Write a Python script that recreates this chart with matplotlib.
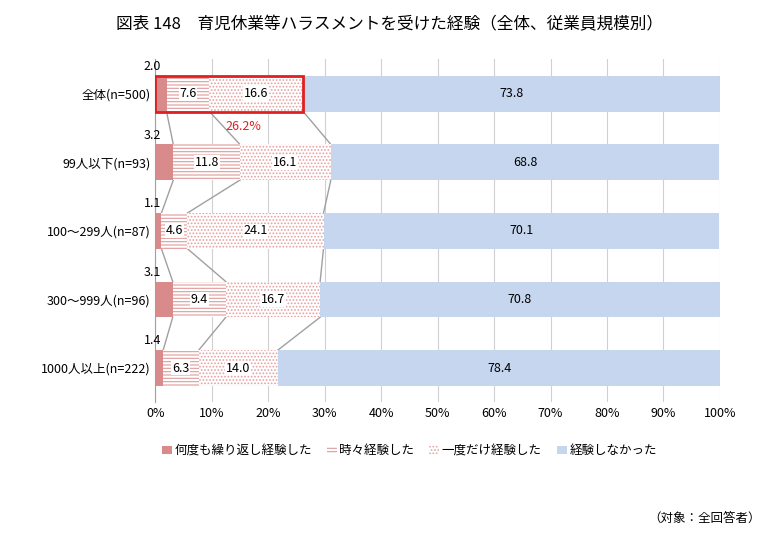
import matplotlib.pyplot as plt
from matplotlib.patches import Rectangle
import numpy as np

plt.rcParams["font.family"] = "Noto Sans CJK JP"
plt.rcParams["hatch.linewidth"] = 0.8

categories = ["全体(n=500)", "99人以下(n=93)", "100～299人(n=87)", "300～999人(n=96)", "1000人以上(n=222)"]
repeated = [2.0, 3.2, 1.1, 3.1, 1.4]
sometimes = [7.6, 11.8, 4.6, 9.4, 6.3]
once = [16.6, 16.1, 24.1, 16.7, 14.0]
never = [73.8, 68.8, 70.1, 70.8, 78.4]
series_names = ["何度も繰り返し経験した", "時々経験した", "一度だけ経験した", "経験しなかった"]

fig = plt.figure(figsize=(7.8, 5.4), dpi=100)
ax = fig.add_axes([0.199, 0.255, 0.724, 0.635])
ypos = np.arange(len(categories))
h = 0.52

series = [repeated, sometimes, once, never]
styles = [
    dict(color="#d98a8a", edgecolor="#d98a8a", hatch=None),
    dict(color="white", edgecolor="#e09a9a", hatch="-----"),
    dict(color="white", edgecolor="#e6a0a0", hatch="....."),
    dict(color="#c6d6ee", edgecolor="#c6d6ee", hatch=None),
]
left = np.zeros(len(categories))
for vals, st, name in zip(series, styles, series_names):
    v = np.array(vals)
    ax.barh(ypos, v, left=left, height=h, color=st["color"], edgecolor=st["edgecolor"],
            hatch=st["hatch"], linewidth=0, label=name, zorder=2)
    left += v

# value labels
for i in ypos:
    ax.text(-0.5, i - h / 2 - 0.04, f"{repeated[i]:.1f}", ha="center", va="bottom", fontsize=9)
    c = repeated[i]
    for vals in (sometimes, once, never):
        ax.text(c + vals[i] / 2, i, f"{vals[i]:.1f}", ha="center", va="center", fontsize=9,
                bbox=dict(facecolor="white", edgecolor="none", pad=0.5) if vals is not never else None,
                zorder=4)
        c += vals[i]

# connector lines
cum = np.cumsum(np.array([repeated, sometimes, once]), axis=0)
for i in range(len(categories) - 1):
    for k in range(3):
        ax.plot([cum[k][i], cum[k][i + 1]], [i + h / 2, i + 1 - h / 2], color="#a0a0a0", lw=1, zorder=1)

# highlight box
ax.add_patch(Rectangle((0, -h / 2), cum[2][0], h, fill=False, edgecolor="#e02020", lw=2, zorder=5))
ax.text(15.7, 0.48, "26.2%", color="#e02020", fontsize=9, ha="center", va="center")

ax.set_xlim(0, 100)
ax.set_ylim(len(categories) - 0.5, -0.5)
ax.set_yticks(ypos)
ax.set_yticklabels(categories, fontsize=9)
ax.set_xticks(range(0, 101, 10))
ax.set_xticklabels([f"{t}%" for t in range(0, 101, 10)], fontsize=9)
ax.tick_params(length=0)
ax.xaxis.grid(True, color="#d0d0d0", lw=0.8, zorder=0)
ax.set_axisbelow(True)
for s in ["top", "right", "bottom"]:
    ax.spines[s].set_visible(False)
ax.spines["left"].set_color("#a0a0a0")

fig.text(0.5, 0.955, "図表 148　育児休業等ハラスメントを受けた経験（全体、従業員規模別）",
         ha="center", va="center", fontsize=12)
ax.legend(loc="upper center", bbox_to_anchor=(0.45, -0.09), ncol=4, frameon=False,
          fontsize=9, handlelength=0.8, handletextpad=0.2, columnspacing=1.2)
fig.text(0.975, 0.04, "（対象：全回答者）", ha="right", va="center", fontsize=9)

fig.savefig("out.png", dpi=100)
